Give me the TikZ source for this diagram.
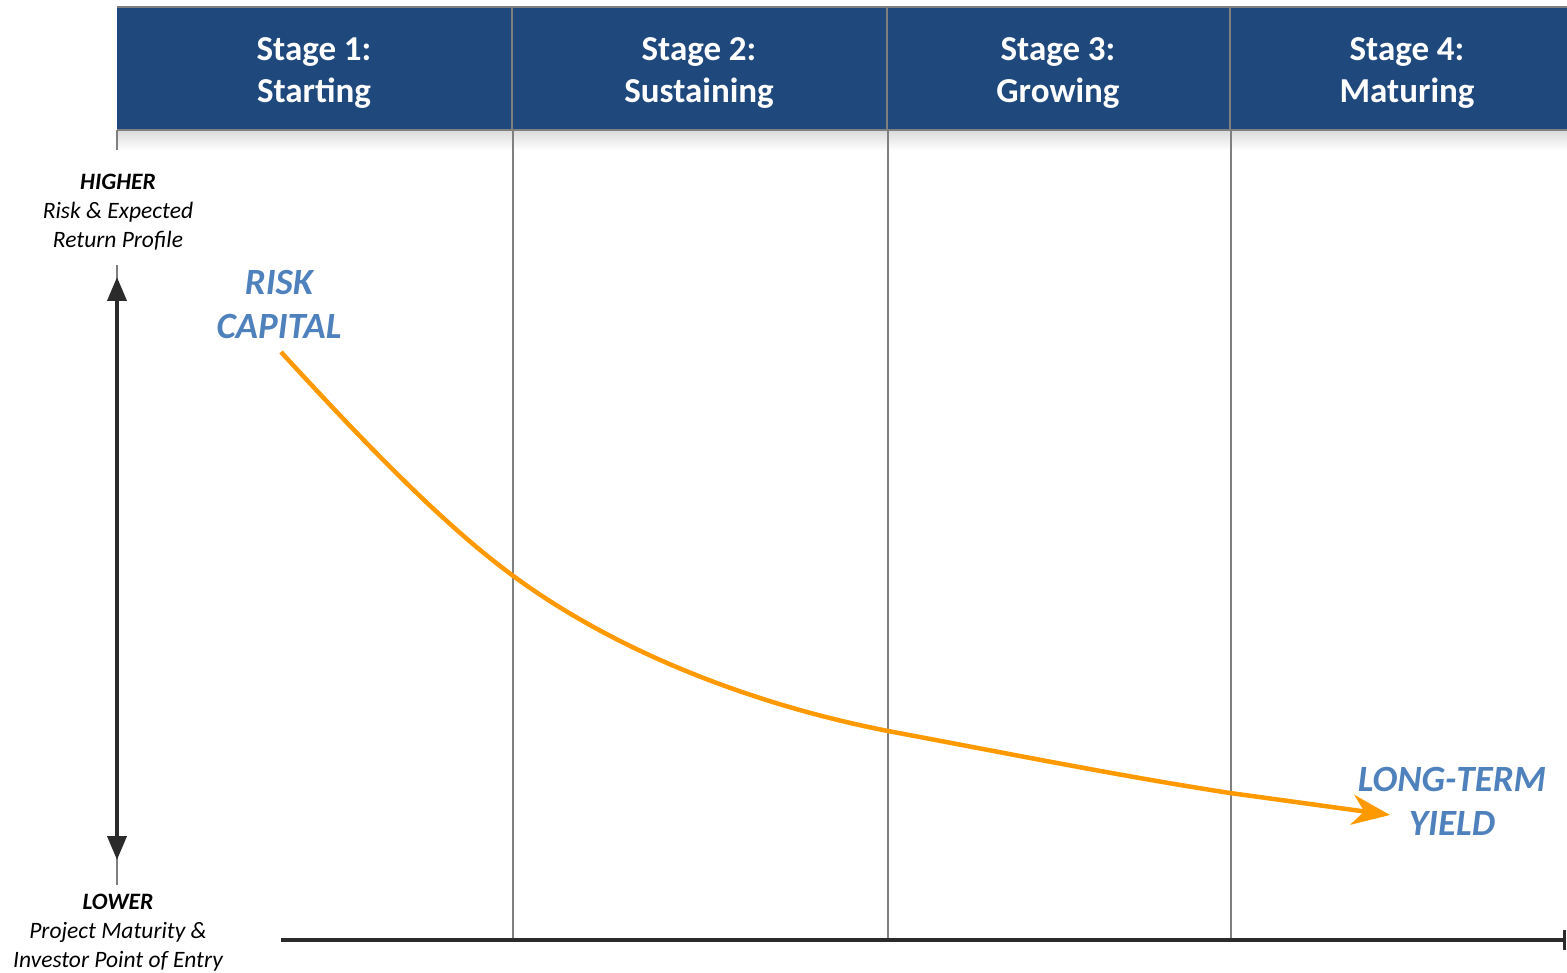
\documentclass[tikz,border=0pt]{standalone}
\usepackage{fontspec}
\setmainfont{Carlito}
\usetikzlibrary{arrows.meta}
\definecolor{hdrblue}{HTML}{1F497D}
\definecolor{txtblue}{HTML}{4F81BD}
\definecolor{curveorange}{HTML}{FF9900}
\definecolor{axisdark}{HTML}{2B2B2B}
\definecolor{gridgray}{HTML}{7F7F7F}
\tikzset{
  hdrtext/.style={text=white, font=\bfseries\fontsize{35}{42}\selectfont, align=center, inner sep=0pt},
  sidelabel/.style={font=\itshape\fontsize{23.5}{29}\selectfont, align=center, inner sep=2pt, fill=white},
  curvelabel/.style={text=txtblue, font=\bfseries\itshape\fontsize{37}{44}\selectfont, align=center, inner sep=0pt},
  divider/.style={draw=gridgray, line width=2pt},
  axisline/.style={draw=axisdark, line width=4pt},
}
\begin{document}
\begin{tikzpicture}[x=1pt,y=-1pt]
\useasboundingbox (0,0) rectangle (1567,973);
% header band
\fill[hdrblue] (117,8) rectangle (1567,130);
\shade[top color=black!14, bottom color=white] (117,131) rectangle (1567,150);
\draw[gridgray, line width=2pt] (117,7) -- (1567,7);
\draw[gridgray, line width=1.5pt] (117,130) -- (1567,130);
% column dividers
\draw[divider] (512,8) -- (512,130);
\draw[divider] (887,8) -- (887,130);
\draw[divider] (1230,8) -- (1230,130);
\draw[divider] (513,130) -- (513,940);
\draw[divider] (888,130) -- (888,940);
\draw[divider] (1231,130) -- (1231,940);
% header texts
\node[hdrtext] (s1) at (314,73) {Stage 1:\\Starting};
\node[hdrtext] (s2) at (699,73) {Stage 2:\\Sustaining};
\node[hdrtext] (s3) at (1058,73) {Stage 3:\\Growing};
\node[hdrtext] (s4) at (1407,73) {Stage 4:\\Maturing};
% left thin guide line
\draw[gridgray, line width=2pt] (117,130) -- (117,150);
\draw[gridgray, line width=2pt] (117,265) -- (117,885);
% side labels
\node[sidelabel] (hi) at (118,212) {\textbf{HIGHER}\\Risk \& Expected\\Return Profile};
\node[sidelabel] (lo) at (118,933) {\textbf{LOWER}\\Project Maturity \&\\Investor Point of Entry};
% vertical double arrow
\coordinate (vt) at (117,277);
\coordinate (vb) at (117,860);
\draw[axisline, {Triangle[length=24pt,width=19pt]}-{Triangle[length=24pt,width=19pt]}] (vt) -- (vb);
% bottom axis
\coordinate (hl) at (281,940);
\coordinate (hr) at (1566,940);
\draw[axisline, -{Bar[width=20pt,line width=3pt]}] (hl) -- (hr);
% curve labels
\node[curvelabel] (rc) at (279,305) {RISK\\CAPITAL};
\node[curvelabel] (ly) at (1452,801) {LONG-TERM\\YIELD};
% curve
\coordinate (c0) at (281,352);
\coordinate (c1) at (512,575);
\coordinate (c2) at (888,731);
\coordinate (c3) at (1230,793);
\coordinate (c4) at (1390,815);
\draw[curveorange, line width=4.5pt, -{Stealth[length=38pt,width=30pt,inset=12pt]}]
  (c0) .. controls (360,438) and (440,522) .. (c1)
       .. controls (620,655) and (760,706) .. (c2)
       .. controls (1000,752) and (1120,776) .. (c3)
       -- (c4);
\end{tikzpicture}
\end{document}
